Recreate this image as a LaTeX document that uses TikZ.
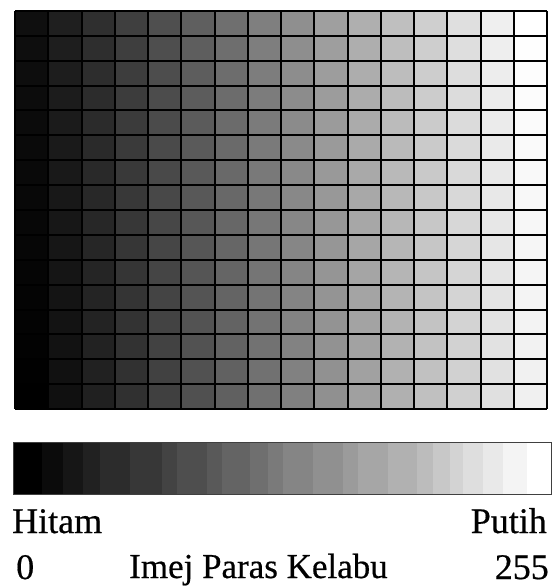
\documentclass[tikz,border=0pt]{standalone}
\usepackage{fontspec}
\setmainfont{Liberation Serif}
\newfontfamily\lblfont[FakeBold=0.5]{Liberation Serif}
\begin{document}
\begin{tikzpicture}[x=1pt,y=-1pt,
  lbl/.style={inner sep=0pt,font=\lblfont\fontsize{36}{40}\selectfont},
  gridline/.style={draw=black,line width=2pt},
  barline/.style={draw=black!75,line width=1pt}]
\useasboundingbox (0,0) rectangle (552,588);
% grid of grey cells
\def\gx{15}\def\gy{11}\def\cw{33.25}\def\ch{24.875}
\foreach \r in {0,...,15}{
  \foreach \c in {0,...,15}{
    \pgfmathtruncatemacro{\v}{min(255,16*\c+15-\r)}
    \fill[fill={rgb,255:red,\v;green,\v;blue,\v}]
      ({\gx+\c*\cw},{\gy+\r*\ch}) rectangle ++(\cw,\ch);
  }
}
\foreach \c in {0,...,16}{
  \draw[gridline] ({\gx+\c*\cw},\gy) -- ({\gx+\c*\cw},{\gy+16*\ch});
}
\foreach \r in {0,...,16}{
  \draw[gridline] (\gx,{\gy+\r*\ch}) -- ({\gx+16*\cw},{\gy+\r*\ch});
}
% stepped grey bar
\foreach \a/\b [count=\i from 0] in {13/42,42/63,63/83,83/100,100/130,130/162,162/177,177/207,207/222,222/250,250/268,268/283,283/313,313/343,343/358,358/388,388/417,417/433,433/450,450/463,463/483,483/503,503/527,527/551}{
  \pgfmathtruncatemacro{\v}{round(255*\i/23)}
  \fill[fill={rgb,255:red,\v;green,\v;blue,\v}] (\a,442) rectangle (\b,494);
}
\draw[barline] (13,442) rectangle (551,494);
% labels
\node[lbl,anchor=base west] (hitam) at (12,533) {Hitam};
\node[lbl,anchor=base east] (putih) at (547,533) {Putih};
\node[lbl,anchor=base west] (zero) at (16,579) {0};
\node[lbl,anchor=base west,font=\lblfont\fontsize{35}{40}\selectfont] (imej) at (129,578) {Imej Paras Kelabu};
\node[lbl,anchor=base east] (max) at (549,579) {255};
\end{tikzpicture}
\end{document}
